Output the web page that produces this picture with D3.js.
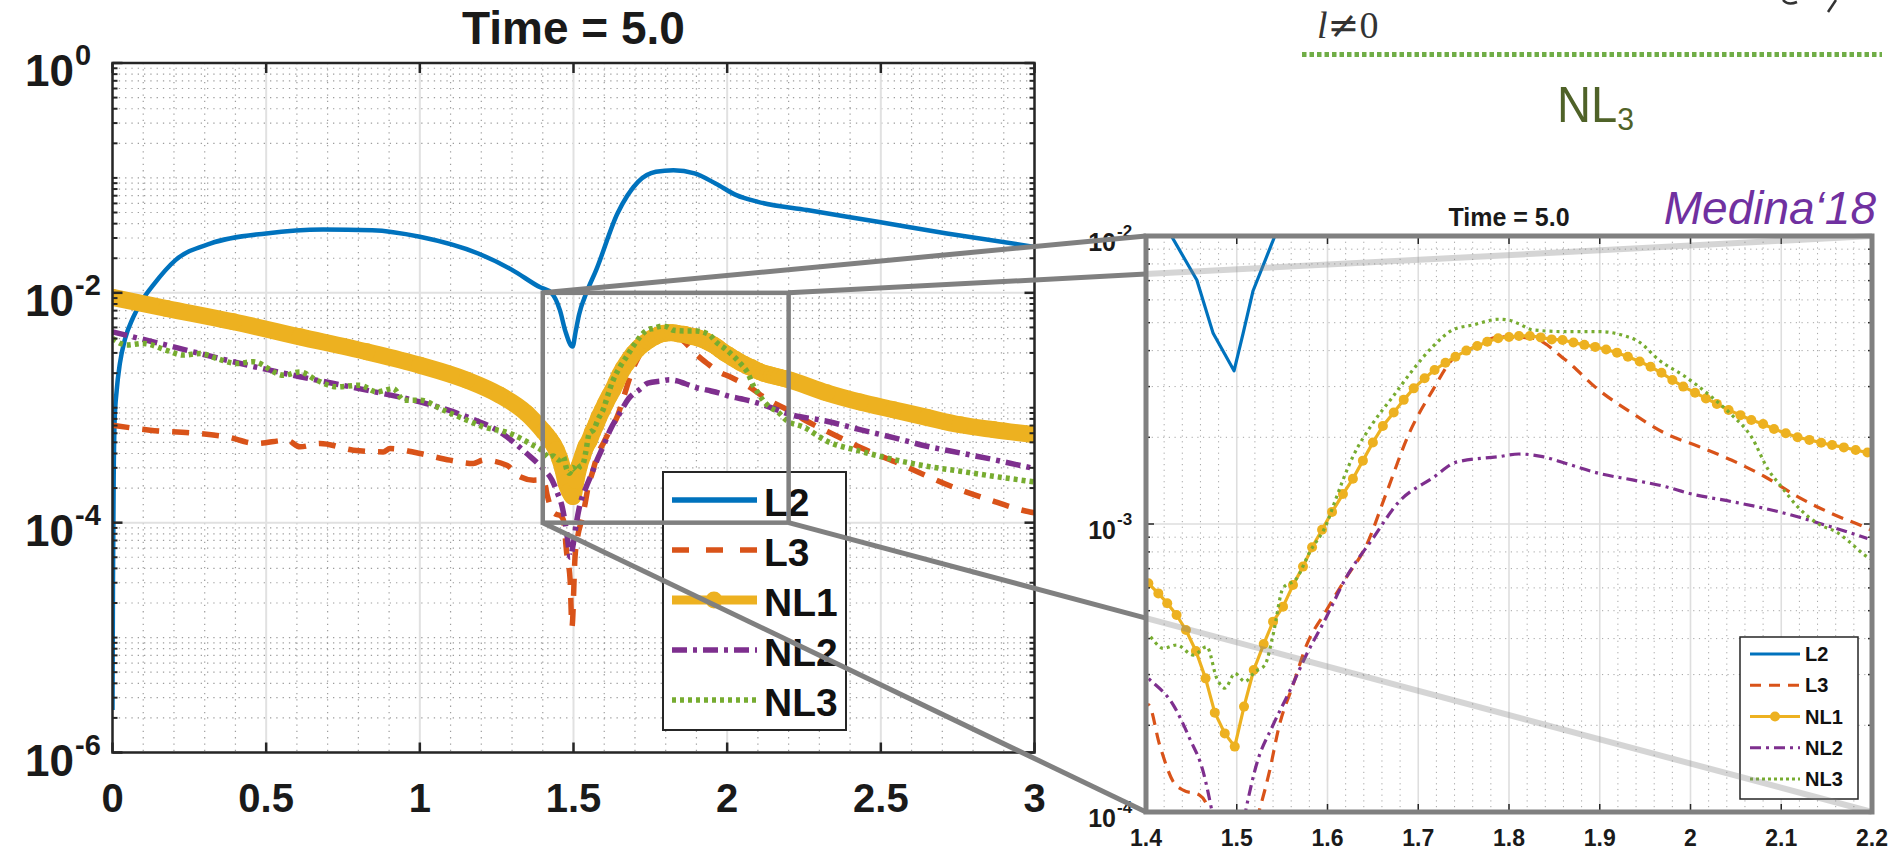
<!DOCTYPE html>
<html>
<head>
<meta charset="utf-8">
<script src="https://cdn.jsdelivr.net/npm/d3@7"></script>
<style>
  body { margin: 0; background: #fff; }
  svg { display: block; font-family: "Liberation Sans", Arial, Helvetica, sans-serif; }
</style>
</head>
<body>
<div id="chart"></div>
<script>
// values: [time, log10(error)]
const L2 = [[0,-5.63],[0.0016,-4.5],[0.0038,-3.63],[0.007,-3.11],[0.0136,-2.85],[0.024,-2.615],[0.041,-2.4],[0.068,-2.21],
  [0.1,-2.05],[0.133,-1.93],[0.205,-1.715],[0.32,-1.57],[0.5,-1.483],[0.685,-1.449],[0.845,-1.455],[1.0,-1.512],
  [1.19,-1.658],[1.3,-1.8],[1.39,-1.95],[1.428,-2.0],[1.456,-2.153],[1.474,-2.338],[1.497,-2.468],[1.507,-2.338],
  [1.518,-2.19],[1.542,-2.0],[1.574,-1.8],[1.643,-1.31],[1.71,-1.034],[1.768,-0.947],[1.825,-0.933],[1.894,-0.961],
  [1.962,-1.048],[2.03,-1.15],[2.1,-1.208],[2.26,-1.28],[2.49,-1.382],[2.715,-1.483],[3.0,-1.6]];

const L3 = [[0,-3.152],[0.122,-3.195],[0.252,-3.218],[0.371,-3.253],[0.469,-3.311],[0.567,-3.282],[0.61,-3.34],[0.675,-3.311],
  [0.784,-3.369],[0.881,-3.384],[0.903,-3.355],[1.0,-3.398],[1.098,-3.456],[1.174,-3.485],[1.207,-3.456],[1.283,-3.5],
  [1.326,-3.601],[1.37,-3.63],[1.4026,-3.628],[1.415,-3.767],[1.43,-3.895],[1.441,-3.924],[1.459,-3.941],[1.467,-3.976],
  [1.478,-4.27],[1.489,-4.5],[1.495,-4.907],[1.505,-4.3],[1.515,-4.1],[1.525,-3.993],[1.536,-3.86],[1.547,-3.698],
  [1.562,-3.559],[1.577,-3.42],[1.598,-3.304],[1.62,-3.189],[1.643,-3.073],[1.664,-2.9],[1.69,-2.685],[1.716,-2.535],
  [1.737,-2.43],[1.763,-2.384],[1.789,-2.35],[1.826,-2.355],[1.862,-2.43],[1.899,-2.535],[1.936,-2.616],[1.972,-2.685],
  [2.009,-2.731],[2.045,-2.778],[2.082,-2.836],[2.118,-2.905],[2.155,-2.963],[2.195,-3.015],[2.248,-3.1],[2.346,-3.233],
  [2.449,-3.364],[2.546,-3.47],[2.747,-3.703],[2.85,-3.798],[2.964,-3.894],[3.0,-3.914]];

const NL1 = [[0,-2.04],[0.176,-2.136],[0.393,-2.252],[0.61,-2.383],[0.827,-2.513],[1.0,-2.63],[1.153,-2.76],[1.26,-2.89],
  [1.348,-3.05],[1.4026,-3.206],[1.4136,-3.241],[1.4234,-3.275],[1.4337,-3.316],[1.444,-3.368],[1.455,-3.441],
  [1.4656,-3.536],[1.4758,-3.655],[1.4868,-3.727],[1.4978,-3.773],[1.508,-3.634],[1.5187,-3.507],[1.5297,-3.417],
  [1.54,-3.339],[1.551,-3.287],[1.562,-3.212],[1.573,-3.148],[1.583,-3.081],[1.594,-3.02],[1.605,-2.958],[1.617,-2.896],
  [1.628,-2.843],[1.639,-2.78],[1.65,-2.717],[1.661,-2.66],[1.673,-2.613],[1.684,-2.569],[1.695,-2.529],[1.707,-2.494],
  [1.718,-2.465],[1.73,-2.44],[1.741,-2.419],[1.753,-2.398],[1.765,-2.382],[1.776,-2.367],[1.788,-2.355],[1.8,-2.351],
  [1.811,-2.347],[1.823,-2.347],[1.835,-2.352],[1.847,-2.359],[1.859,-2.361],[1.871,-2.37],[1.883,-2.378],[1.895,-2.385],
  [1.907,-2.394],[1.919,-2.405],[1.931,-2.419],[1.944,-2.436],[1.956,-2.454],[1.968,-2.475],[1.98,-2.5],[1.992,-2.523],
  [2.005,-2.544],[2.017,-2.564],[2.029,-2.583],[2.042,-2.604],[2.055,-2.622],[2.067,-2.639],[2.08,-2.653],[2.092,-2.67],
  [2.105,-2.685],[2.118,-2.699],[2.131,-2.708],[2.144,-2.718],[2.156,-2.726],[2.169,-2.734],[2.182,-2.743],[2.195,-2.752],
  [2.324,-2.87],[2.432,-2.95],[2.541,-3.017],[2.65,-3.084],[2.758,-3.148],[2.866,-3.19],[3.0,-3.235]];

const NL2 = [[0,-2.34],[0.176,-2.455],[0.393,-2.6],[0.61,-2.73],[0.827,-2.847],[1.0,-2.949],[1.153,-3.079],[1.26,-3.21],
  [1.348,-3.398],[1.4026,-3.536],[1.43,-3.628],[1.448,-3.744],[1.463,-3.86],[1.472,-3.987],[1.481,-4.15],[1.489,-4.3],
  [1.497,-4.22],[1.51,-3.993],[1.5216,-3.837],[1.54,-3.698],[1.558,-3.582],[1.5766,-3.455],[1.598,-3.328],[1.62,-3.189],
  [1.65,-3.05],[1.679,-2.922],[1.716,-2.84],[1.742,-2.785],[1.789,-2.766],[1.811,-2.757],[1.837,-2.766],[1.862,-2.789],
  [1.899,-2.824],[1.936,-2.847],[1.972,-2.87],[1.999,-2.894],[2.045,-2.922],[2.082,-2.946],[2.118,-2.975],[2.155,-3.01],
  [2.195,-3.05],[2.324,-3.117],[2.432,-3.19],[2.541,-3.26],[2.65,-3.335],[2.758,-3.393],[2.866,-3.451],[3.0,-3.53]];

const NL3 = [[0,-2.397],[0.046,-2.455],[0.1,-2.44],[0.176,-2.5],[0.23,-2.542],[0.285,-2.528],[0.339,-2.571],[0.404,-2.615],
  [0.458,-2.6],[0.556,-2.717],[0.61,-2.688],[0.664,-2.76],[0.729,-2.818],[0.805,-2.804],[0.86,-2.862],[0.914,-2.833],
  [0.947,-2.934],[1.0,-2.934],[1.077,-3.021],[1.153,-3.108],[1.207,-3.166],[1.294,-3.224],[1.358,-3.311],[1.4026,-3.385],
  [1.419,-3.432],[1.434,-3.42],[1.452,-3.455],[1.467,-3.426],[1.478,-3.536],[1.487,-3.57],[1.498,-3.519],[1.509,-3.547],
  [1.52,-3.513],[1.531,-3.49],[1.54,-3.385],[1.551,-3.223],[1.566,-3.189],[1.58,-3.1],[1.6,-2.992],[1.606,-2.94],
  [1.628,-2.766],[1.65,-2.65],[1.672,-2.558],[1.694,-2.465],[1.716,-2.384],[1.738,-2.326],[1.76,-2.309],[1.789,-2.289],
  [1.8,-2.292],[1.811,-2.305],[1.826,-2.326],[1.862,-2.332],[1.899,-2.332],[1.928,-2.347],[1.943,-2.367],[1.965,-2.43],
  [1.994,-2.488],[2.023,-2.558],[2.045,-2.62],[2.067,-2.697],[2.086,-2.813],[2.1,-2.87],[2.118,-2.94],[2.14,-2.998],
  [2.163,-3.032],[2.177,-3.067],[2.192,-3.108],[2.25,-3.17],[2.324,-3.29],[2.432,-3.377],[2.541,-3.45],[2.65,-3.509],
  [2.758,-3.552],[2.866,-3.596],[3.0,-3.645]];

const names = ["L2", "L3", "NL1", "NL2", "NL3"];
const colors = ["#0072BD", "#D95319", "#EDB120", "#7E2F8E", "#77AC30"];
const mainXTicks = [0, 0.5, 1, 1.5, 2, 2.5, 3];
const mainYTickExps = [0, -2, -4, -6];
const insetXTicks = [1.4, 1.5, 1.6, 1.7, 1.8, 1.9, 2, 2.1, 2.2];
const insetYTickExps = [-2, -3, -4];
const zoomRange = { t0: 1.4, t1: 2.2, lo: 1e-4, hi: 1e-2 };

const W = 1897, H = 853;
const svg = d3.select("#chart").append("svg").attr("width", W).attr("height", H);

// main panel
const x = d3.scaleLinear().domain([0, 3]).range([112.5, 1034.5]);
const y = d3.scaleLog().domain([1e-6, 1]).range([752.5, 63]);
// zoomed panel
const xi = d3.scaleLinear().domain([zoomRange.t0, zoomRange.t1]).range([1146, 1872]);
const yi = d3.scaleLog().domain([zoomRange.lo, zoomRange.hi]).range([812, 236]);

const val = d => Math.pow(10, d[1]);
const data = [L2, L3, NL1, NL2, NL3];

// styles per series: main panel and zoom panel
const mainStyle = [
  { w: 4.5, dash: null },
  { w: 5.5, dash: "17,13" },
  { w: 17, dash: null, r: 8.5 },
  { w: 5.5, dash: "15,6,4,6" },
  { w: 5.5, dash: "4,4" }
];
const insetStyle = [
  { w: 3.2, dash: null, curve: d3.curveLinear },
  { w: 3.2, dash: "12,8", curve: d3.curveMonotoneX },
  { w: 3.2, dash: null, r: 5, curve: d3.curveLinear },
  { w: 3.2, dash: "11,5,3,5", curve: d3.curveMonotoneX },
  { w: 3.2, dash: "3,4", curve: d3.curveMonotoneX }
];

const defs = svg.append("defs");
defs.append("clipPath").attr("id", "clipMain").append("rect")
  .attr("x", x(0)).attr("y", y(1)).attr("width", x(3) - x(0)).attr("height", y(1e-6) - y(1));
defs.append("clipPath").attr("id", "clipInset").append("rect")
  .attr("x", xi(1.4)).attr("y", yi(1e-2)).attr("width", xi(2.2) - xi(1.4)).attr("height", yi(1e-4) - yi(1e-2));
const grad = defs.append("linearGradient").attr("id", "fadeBlue");
grad.append("stop").attr("offset", "0%").attr("stop-color", "#4472C4");
grad.append("stop").attr("offset", "100%").attr("stop-color", "#4472C4").attr("stop-opacity", 0);

// ---------- main panel grid ----------
const gm = svg.append("g");
const xMinor = d3.range(1, 30).map(i => i / 10).filter(v => Math.abs(v * 2 - Math.round(v * 2)) > 1e-6);
const yMinorMain = [];
for (let n = -6; n <= -1; n++) for (let k = 1; k <= 9; k++) {
  if (k === 1 && n % 2 === 0) continue;
  yMinorMain.push(k * Math.pow(10, n));
}
gm.selectAll(".vmin").data(xMinor).join("line")
  .attr("x1", d => x(d)).attr("x2", d => x(d)).attr("y1", y(1)).attr("y2", y(1e-6))
  .attr("stroke", "#9d9d9d").attr("stroke-width", 1.2).attr("stroke-dasharray", "1.3,5");
gm.selectAll(".hmin").data(yMinorMain).join("line")
  .attr("x1", x(0)).attr("x2", x(3)).attr("y1", d => y(d)).attr("y2", d => y(d))
  .attr("stroke", "#9d9d9d").attr("stroke-width", 1.2).attr("stroke-dasharray", "1.3,5");
gm.selectAll(".vmaj").data(mainXTicks).join("line")
  .attr("x1", d => x(d)).attr("x2", d => x(d)).attr("y1", y(1)).attr("y2", y(1e-6))
  .attr("stroke", "#e1e1e1").attr("stroke-width", 2);
gm.selectAll(".hmaj").data(mainYTickExps).join("line")
  .attr("x1", x(0)).attr("x2", x(3)).attr("y1", d => y(Math.pow(10, d))).attr("y2", d => y(Math.pow(10, d)))
  .attr("stroke", "#e1e1e1").attr("stroke-width", 2);

// ---------- main panel series ----------
const lineMain = d3.line().x(d => x(d[0])).y(d => y(val(d))).curve(d3.curveMonotoneX);
const gmData = svg.append("g").attr("clip-path", "url(#clipMain)");
data.forEach((s, i) => {
  const st = mainStyle[i];
  gmData.append("path").datum(s).attr("d", lineMain)
    .attr("fill", "none").attr("stroke", colors[i]).attr("stroke-width", st.w)
    .attr("stroke-linejoin", "round").attr("stroke-linecap", st.r ? "round" : "butt")
    .attr("stroke-dasharray", st.dash);
  if (st.r) {
    gmData.append("g").selectAll("circle").data(s).join("circle")
      .attr("cx", d => x(d[0])).attr("cy", d => y(val(d))).attr("r", st.r).attr("fill", colors[i]);
  }
});

// ---------- main panel axes ----------
const ga = svg.append("g").attr("stroke", "#262626");
ga.append("rect").attr("x", x(0)).attr("y", y(1)).attr("width", x(3) - x(0)).attr("height", y(1e-6) - y(1))
  .attr("fill", "none").attr("stroke-width", 2.5);
mainXTicks.forEach(t => {
  ga.append("line").attr("x1", x(t)).attr("x2", x(t)).attr("y1", y(1e-6)).attr("y2", y(1e-6) - 10).attr("stroke-width", 2.5);
  ga.append("line").attr("x1", x(t)).attr("x2", x(t)).attr("y1", y(1)).attr("y2", y(1) + 10).attr("stroke-width", 2.5);
});
mainYTickExps.forEach(e => {
  const yy = y(Math.pow(10, e));
  ga.append("line").attr("x1", x(0)).attr("x2", x(0) + 10).attr("y1", yy).attr("y2", yy).attr("stroke-width", 2.5);
  ga.append("line").attr("x1", x(3)).attr("x2", x(3) - 10).attr("y1", yy).attr("y2", yy).attr("stroke-width", 2.5);
});
yMinorMain.forEach(v => {
  ga.append("line").attr("x1", x(0)).attr("x2", x(0) + 5).attr("y1", y(v)).attr("y2", y(v)).attr("stroke-width", 2);
  ga.append("line").attr("x1", x(3)).attr("x2", x(3) - 5).attr("y1", y(v)).attr("y2", y(v)).attr("stroke-width", 2);
});

const gl = svg.append("g").attr("fill", "#1a1a1a").attr("font-weight", "bold");
gl.selectAll(".xl").data(mainXTicks).join("text")
  .attr("x", d => x(d)).attr("y", 812).attr("text-anchor", "middle").attr("font-size", 40)
  .text(d => d3.format("~g")(d));
mainYTickExps.forEach(e => {
  const yy = y(Math.pow(10, e));
  gl.append("text").attr("x", 74).attr("y", yy + 23).attr("text-anchor", "end").attr("font-size", 44).text("10");
  gl.append("text").attr("x", 75).attr("y", yy + 2).attr("font-size", 29).text(e);
});
gl.append("text").attr("x", (x(0) + x(3)) / 2).attr("y", 44).attr("text-anchor", "middle")
  .attr("font-size", 46).text("Time = 5.0");

// ---------- main legend ----------
const lg = svg.append("g");
lg.append("rect").attr("x", 663).attr("y", 472).attr("width", 183).attr("height", 258)
  .attr("fill", "#fff").attr("stroke", "#262626").attr("stroke-width", 2);
const legMainStyle = [
  { w: 5.5, dash: null }, { w: 5.5, dash: "17,17" }, { w: 9, dash: null, r: 8.5 },
  { w: 5.5, dash: "15,6,4,6" }, { w: 5.5, dash: "4,4" }
];
names.forEach((nm, i) => {
  const yy = 500 + i * 50, st = legMainStyle[i];
  lg.append("line").attr("x1", 672).attr("x2", 757).attr("y1", yy).attr("y2", yy)
    .attr("stroke", colors[i]).attr("stroke-width", st.w).attr("stroke-dasharray", st.dash);
  if (st.r) lg.append("circle").attr("cx", 714).attr("cy", yy).attr("r", st.r).attr("fill", colors[i]);
  lg.append("text").attr("x", 764).attr("y", yy + 16).attr("font-size", 39).attr("font-weight", "bold")
    .attr("fill", "#111").text(nm);
});

// ---------- zoomed panel labels ----------
const gil = svg.append("g").attr("fill", "#1a1a1a").attr("font-weight", "bold");
gil.selectAll(".xil").data(insetXTicks).join("text")
  .attr("x", d => xi(d)).attr("y", 846).attr("text-anchor", "middle").attr("font-size", 23)
  .text(d => d3.format("~g")(d));
insetYTickExps.forEach(e => {
  const yy = yi(Math.pow(10, e));
  gil.append("text").attr("x", 1116).attr("y", yy + 15).attr("text-anchor", "end").attr("font-size", 25).text("10");
  gil.append("text").attr("x", 1117).attr("y", yy + 1).attr("font-size", 17).text(e);
});
gil.append("text").attr("x", (xi(1.4) + xi(2.2)) / 2).attr("y", 226).attr("text-anchor", "middle")
  .attr("font-size", 25).text("Time = 5.0");

// ---------- zoom box and connectors ----------
const bx0 = x(zoomRange.t0), bx1 = x(zoomRange.t1), by0 = y(zoomRange.hi), by1 = y(zoomRange.lo);
const ix0 = xi(zoomRange.t0), ix1 = xi(zoomRange.t1), iy0 = yi(zoomRange.hi), iy1 = yi(zoomRange.lo);
const connectors = [
  [[bx0, by0], [ix0, iy0]],
  [[bx1, by0], [ix1, iy0]],
  [[bx0, by1], [ix0, iy1]],
  [[bx1, by1], [ix1, iy1]]
];
const split = c => {
  const [[ax, ay], [bx, by]] = c;
  if (bx <= ix0 + 1) return { out: c, inn: null };
  const t = (ix0 - ax) / (bx - ax), my = ay + t * (by - ay);
  return { out: [[ax, ay], [ix0, my]], inn: [[ix0, my], [bx, by]] };
};
const gc = svg.append("g");
gc.append("rect").attr("x", bx0).attr("y", by0).attr("width", bx1 - bx0).attr("height", by1 - by0)
  .attr("fill", "none").attr("stroke", "#808080").attr("stroke-width", 4.5);
connectors.forEach(c => {
  const s = split(c);
  gc.append("line").attr("x1", s.out[0][0]).attr("y1", s.out[0][1]).attr("x2", s.out[1][0]).attr("y2", s.out[1][1])
    .attr("stroke", "#808080").attr("stroke-width", 5);
});

// ---------- zoomed panel body ----------
const gi = svg.append("g");
gi.append("rect").attr("x", ix0).attr("y", iy0).attr("width", ix1 - ix0).attr("height", iy1 - iy0).attr("fill", "#fff");
const xiMinor = d3.range(71, 110).map(i => i / 50).filter(v => Math.abs(v * 10 - Math.round(v * 10)) > 1e-6);
const yiMinor = [];
for (let n = -4; n <= -3; n++) for (let k = 2; k <= 9; k++) yiMinor.push(k * Math.pow(10, n));
gi.selectAll(".vimin").data(xiMinor).join("line")
  .attr("x1", d => xi(d)).attr("x2", d => xi(d)).attr("y1", iy0).attr("y2", iy1)
  .attr("stroke", "#a5a5a5").attr("stroke-width", 1).attr("stroke-dasharray", "1.2,4.5");
gi.selectAll(".himin").data(yiMinor).join("line")
  .attr("x1", ix0).attr("x2", ix1).attr("y1", d => yi(d)).attr("y2", d => yi(d))
  .attr("stroke", "#a5a5a5").attr("stroke-width", 1).attr("stroke-dasharray", "1.2,4.5");
gi.selectAll(".vimaj").data(insetXTicks).join("line")
  .attr("x1", d => xi(d)).attr("x2", d => xi(d)).attr("y1", iy0).attr("y2", iy1)
  .attr("stroke", "#dedede").attr("stroke-width", 1.6);
gi.selectAll(".himaj").data(insetYTickExps).join("line")
  .attr("x1", ix0).attr("x2", ix1).attr("y1", d => yi(Math.pow(10, d))).attr("y2", d => yi(Math.pow(10, d)))
  .attr("stroke", "#dedede").attr("stroke-width", 1.6);

const giData = svg.append("g").attr("clip-path", "url(#clipInset)");
data.forEach((s, i) => {
  const st = insetStyle[i];
  const ln = d3.line().x(d => xi(d[0])).y(d => yi(val(d))).curve(st.curve);
  const part = s.filter(d => d[0] >= 1.3 && d[0] <= 2.3);
  giData.append("path").datum(part).attr("d", ln)
    .attr("fill", "none").attr("stroke", colors[i]).attr("stroke-width", st.w)
    .attr("stroke-linejoin", "round").attr("stroke-dasharray", st.dash);
  if (st.r) {
    giData.append("g").selectAll("circle").data(part.filter(d => d[0] >= 1.4 && d[0] <= 2.2)).join("circle")
      .attr("cx", d => xi(d[0])).attr("cy", d => yi(val(d))).attr("r", st.r).attr("fill", colors[i]);
  }
});

// ticks of zoomed panel
const git = svg.append("g").attr("stroke", "#262626").attr("stroke-width", 1.5);
insetXTicks.forEach(t => {
  git.append("line").attr("x1", xi(t)).attr("x2", xi(t)).attr("y1", iy1).attr("y2", iy1 - 8);
  git.append("line").attr("x1", xi(t)).attr("x2", xi(t)).attr("y1", iy0).attr("y2", iy0 + 8);
});
insetYTickExps.forEach(e => {
  const yy = yi(Math.pow(10, e));
  git.append("line").attr("x1", ix0).attr("x2", ix0 + 8).attr("y1", yy).attr("y2", yy);
  git.append("line").attr("x1", ix1).attr("x2", ix1 - 8).attr("y1", yy).attr("y2", yy);
});
yiMinor.forEach(v => {
  git.append("line").attr("x1", ix0).attr("x2", ix0 + 4).attr("y1", yi(v)).attr("y2", yi(v));
  git.append("line").attr("x1", ix1).attr("x2", ix1 - 4).attr("y1", yi(v)).attr("y2", yi(v));
});

// legend of zoomed panel
const lgi = svg.append("g");
lgi.append("rect").attr("x", 1740).attr("y", 637).attr("width", 118).attr("height", 162)
  .attr("fill", "#fff").attr("stroke", "#262626").attr("stroke-width", 1.5);
const legInsetStyle = [
  { w: 3.2, dash: null }, { w: 3.2, dash: "11,8" }, { w: 3.2, dash: null, r: 5 },
  { w: 3.2, dash: "11,5,3,5" }, { w: 3.2, dash: "3,3" }
];
names.forEach((nm, i) => {
  const yy = 654 + i * 31.25, st = legInsetStyle[i];
  lgi.append("line").attr("x1", 1750).attr("x2", 1800).attr("y1", yy).attr("y2", yy)
    .attr("stroke", colors[i]).attr("stroke-width", st.w).attr("stroke-dasharray", st.dash);
  if (st.r) lgi.append("circle").attr("cx", 1775).attr("cy", yy).attr("r", st.r).attr("fill", colors[i]);
  lgi.append("text").attr("x", 1805).attr("y", yy + 7).attr("font-size", 20).attr("font-weight", "bold")
    .attr("fill", "#111").text(nm);
});

// connector parts seen through the magnified panel
connectors.forEach(c => {
  const s = split(c);
  if (!s.inn) return;
  svg.append("line").attr("x1", s.inn[0][0]).attr("y1", s.inn[0][1]).attr("x2", s.inn[1][0]).attr("y2", s.inn[1][1])
    .attr("stroke", "#808080").attr("stroke-opacity", 0.33).attr("stroke-width", 6);
});

// frame of zoomed panel
svg.append("rect").attr("x", ix0).attr("y", iy0).attr("width", ix1 - ix0).attr("height", iy1 - iy0)
  .attr("fill", "none").attr("stroke", "#808080").attr("stroke-width", 5);

svg.append("text").attr("x", 1876).attr("y", 224).attr("text-anchor", "end")
  .attr("font-size", 46).attr("font-style", "italic").attr("fill", "#7030A0").text("Medina\u201818");

// ---------- slide fragment above ----------
const gt = svg.append("g");
const eq = gt.append("text").attr("x", 1317).attr("y", 38).attr("font-family", "'Liberation Serif', 'Times New Roman', serif")
  .attr("font-size", 38).attr("fill", "#333");
eq.append("tspan").attr("font-style", "italic").text("l");
eq.append("tspan").attr("font-family", "'DejaVu Serif', serif").text("\u2260");
eq.append("tspan").text("0");
// bits of glyphs cut by the top edge
gt.append("path").attr("d", "M1783,0 Q1788,6 1797,2").attr("fill", "none").attr("stroke", "#333").attr("stroke-width", 2.5);
gt.append("line").attr("x1", 1836).attr("y1", 0).attr("x2", 1828).attr("y2", 12).attr("stroke", "#333").attr("stroke-width", 2.5);
gt.append("line").attr("x1", 1298).attr("x2", 1374).attr("y1", 49).attr("y2", 49)
  .attr("stroke", "url(#fadeBlue)").attr("stroke-width", 1.5);
gt.append("line").attr("x1", 1302).attr("x2", 1882).attr("y1", 54.5).attr("y2", 54.5)
  .attr("stroke", "#70AD47").attr("stroke-width", 5).attr("stroke-dasharray", "4.5,3");
const nl = gt.append("text").attr("x", 1557).attr("y", 122)
  .attr("font-family", "'Liberation Sans Narrow', 'Liberation Sans', sans-serif").attr("font-size", 50).attr("fill", "#4F6228")
  .attr("textLength", 77).attr("lengthAdjust", "spacingAndGlyphs");
nl.append("tspan").text("NL");
nl.append("tspan").attr("font-size", 32).attr("dy", 8).text("3");
</script>
</body>
</html>
